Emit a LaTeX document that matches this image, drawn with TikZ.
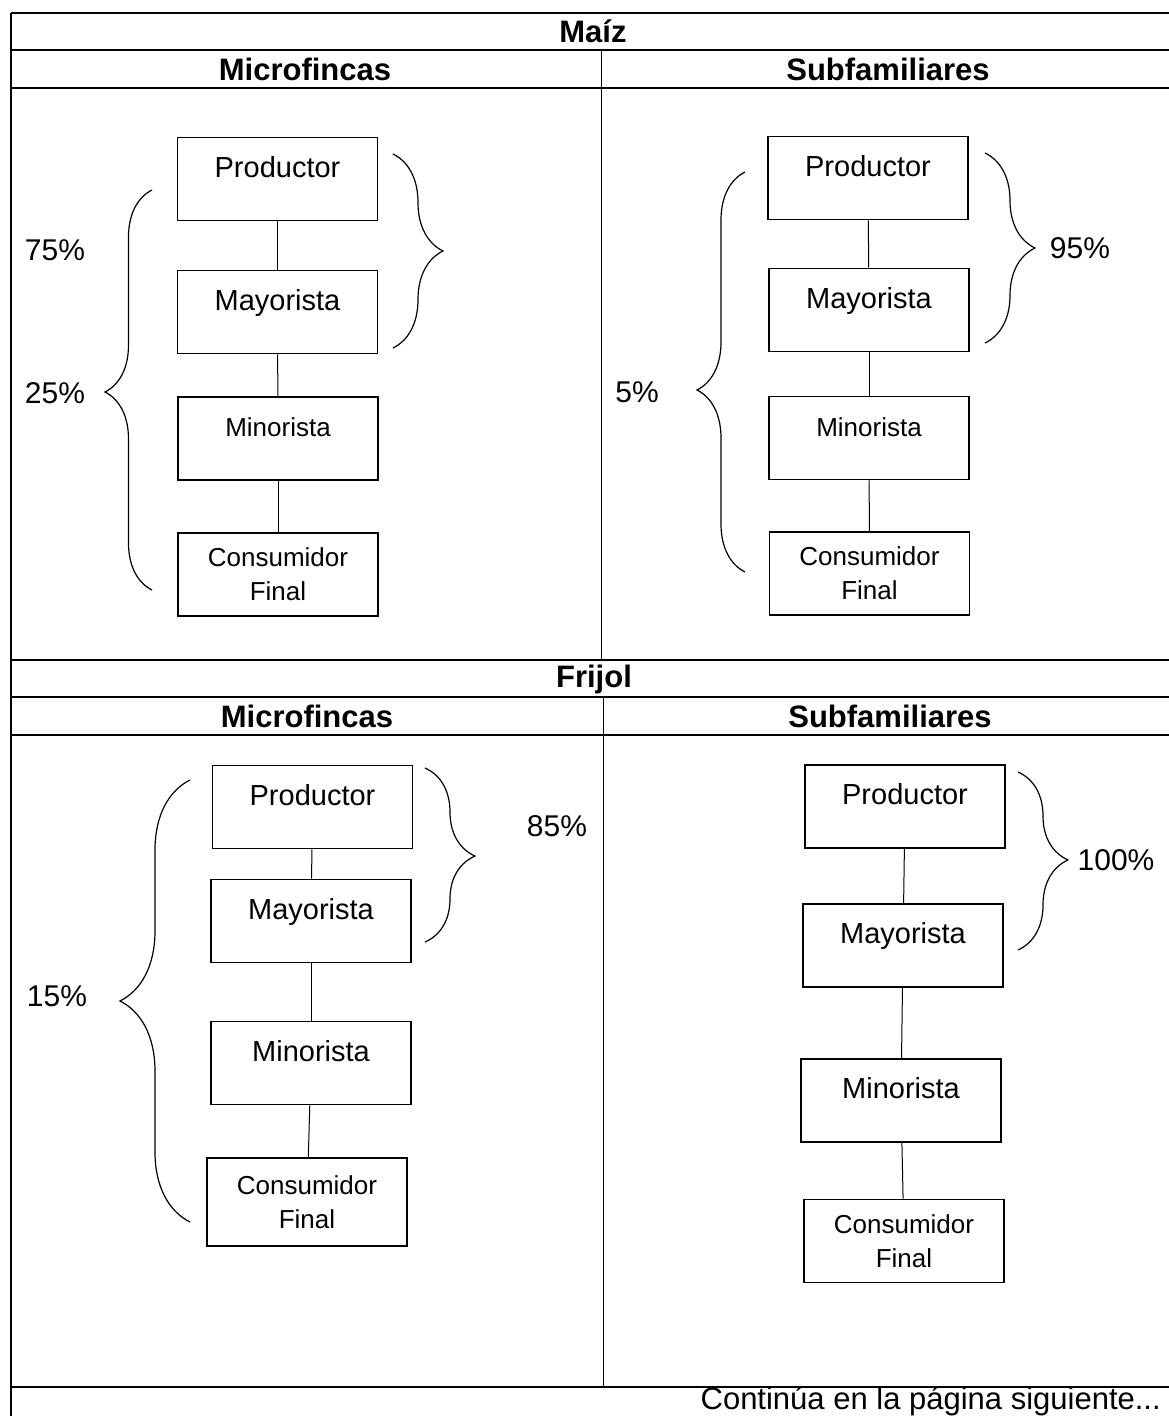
\documentclass[tikz,border=0pt]{standalone}
\usepackage{fontspec}
\setmainfont{Liberation Sans}
\usetikzlibrary{decorations.pathreplacing}

\begin{document}
\begin{tikzpicture}[x=1pt,y=-1pt,node distance=130pt]
  \tikzstyle{etapa}=[rectangle,draw=black,line width=1.6pt,minimum width=200pt,minimum height=83pt,inner sep=0pt]
  \tikzstyle{uno}=[etapa,text height=21pt,text depth=25pt,font=\fontsize{29}{34}\selectfont]
  \tikzstyle{dos}=[etapa,align=center,font=\fontsize{26}{34}\selectfont]
  \tikzstyle{titulo}=[font=\bfseries\fontsize{31}{36}\selectfont]
  \tikzstyle{pct}=[font=\fontsize{30}{36}\selectfont]
  \tikzstyle{llave}=[decorate,decoration=brace,line width=1.2pt]
  \tikzstyle{tabla}=[line width=1.6pt]
  \useasboundingbox (0,0) rectangle (1169,1416);

  % tabla
  \draw[tabla] (11,13) -- (1175,13);
  \draw[tabla] (11,50) -- (1175,50);
  \draw[tabla] (11,88) -- (1175,88);
  \draw[tabla] (11,660) -- (1175,660);
  \draw[tabla] (11,697) -- (1175,697);
  \draw[tabla] (11,735) -- (1175,735);
  \draw[tabla] (11,1387) -- (1175,1387);
  \draw[tabla] (11,13) -- (11,1420);
  \draw[line width=1pt] (601,50) -- (601,660);
  \draw[line width=1pt] (603,697) -- (603,1387);

  \node[titulo] (tmaiz) at (593,31) {Maíz};
  \node[titulo] (tmicro1) at (305,69) {Microfincas};
  \node[titulo] (tsub1) at (888,69) {Subfamiliares};
  \node[titulo] (tfrijol) at (594,679) {Frijol};
  \node[titulo] (tmicro2) at (307,716) {Microfincas};
  \node[titulo] (tsub2) at (890,716) {Subfamiliares};
  \node[pct,font=\fontsize{31}{36}\selectfont,anchor=base east,inner sep=0pt] (tsigue) at (1161,1409) {Continúa en la página siguiente...};

  % maiz, microfincas
  \node[uno] (mp1) at (277.5,179) {Productor};
  \node[uno, below of=mp1, node distance=133pt] (mm1) {Mayorista};
  \node[uno, font=\fontsize{26}{34}\selectfont, below of=mm1, node distance=126.5pt, xshift=0.5pt] (mn1) {Minorista};
  \node[dos, below of=mn1, node distance=136pt] (mc1) {Consumidor\\Final};

  % maiz, subfamiliares
  \node[uno] (mp2) at (868,178) {Productor};
  \node[uno, below of=mp2, node distance=132pt, xshift=1pt] (mm2) {Mayorista};
  \node[uno, font=\fontsize{26}{34}\selectfont, below of=mm2, node distance=128pt] (mn2) {Minorista};
  \node[dos, below of=mn2, node distance=135.5pt, xshift=0.5pt] (mc2) {Consumidor\\Final};

  % frijol, microfincas
  \node[uno] (fp1) at (312.5,807) {Productor};
  \node[uno, below of=fp1, node distance=114pt, xshift=-1.5pt] (fm1) {Mayorista};
  \node[uno, below of=fm1, node distance=142pt] (fn1) {Minorista};
  \node[dos, minimum height=88pt, below of=fn1, node distance=139pt, xshift=-4pt] (fc1) {Consumidor\\Final};

  % frijol, subfamiliares
  \node[uno] (fp2) at (905,806.5) {Productor};
  \node[uno, below of=fp2, node distance=139pt, xshift=-2pt] (fm2) {Mayorista};
  \node[uno, below of=fm2, node distance=155pt, xshift=-2pt] (fn2) {Minorista};
  \node[dos, below of=fn2, node distance=140.5pt, xshift=3pt] (fc2) {Consumidor\\Final};

  % conectores
  \foreach \a/\b in {mp1/mm1,mm1/mn1,mn1/mc1,mp2/mm2,mm2/mn2,mn2/mc2,
                     fp1/fm1,fm1/fn1,fn1/fc1,fp2/fm2,fm2/fn2,fn2/fc2}
    \draw[line width=1pt] (\a) -- (\b);

  % porcentajes
  \node[pct] (p75) at (55,250) {75\%};
  \node[pct] (p25) at (55,393) {25\%};
  \node[pct] (p95) at (1080,248) {95\%};
  \node[pct] (p5) at (637,392) {5\%};
  \node[pct] (p85) at (557,826) {85\%};
  \node[pct] (p15) at (57,996) {15\%};
  \node[pct] (p100) at (1116,860) {100\%};

  % llaves
  \draw[llave, decoration={amplitude=47pt,aspect=0.495}] (152,590) -- (152,190);
  \draw[llave, decoration={amplitude=50pt,aspect=0.5}] (393,154) -- (393,348);
  \draw[llave, decoration={amplitude=48pt,aspect=0.455}] (745,572) -- (745,172);
  \draw[llave, decoration={amplitude=50pt,aspect=0.5}] (985,153) -- (985,343);
  \draw[llave, decoration={amplitude=70pt,aspect=0.5}] (190,1222) -- (190,780);
  \draw[llave, decoration={amplitude=50pt,aspect=0.506}] (425,768) -- (425,942);
  \draw[llave, decoration={amplitude=50pt,aspect=0.494}] (1018,772) -- (1018,950);

\end{tikzpicture}
\end{document}
